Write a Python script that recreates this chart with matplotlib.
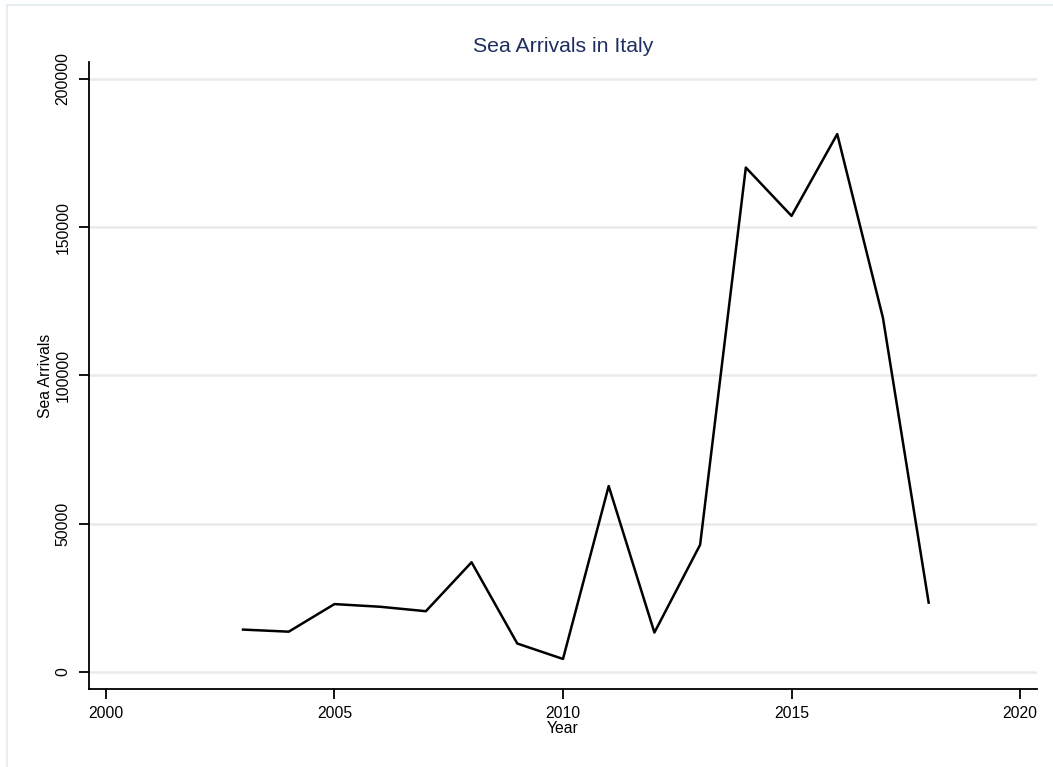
import matplotlib.pyplot as plt
from matplotlib.patches import Rectangle

# Llegadas por mar a Italia, por año
anios = [2003, 2004, 2005, 2006, 2007, 2008, 2009, 2010,
         2011, 2012, 2013, 2014, 2015, 2016, 2017, 2018]
llegadas = [14300, 13600, 22900, 22000, 20500, 37000, 9600, 4400,
            62700, 13300, 42900, 170100, 153800, 181400, 119400, 23400]

plt.rcParams['font.family'] = ['Liberation Sans', 'DejaVu Sans']

fig = plt.figure(figsize=(10.53, 7.67), dpi=100)
ax = fig.add_axes([0.0845, 0.1017, 0.9003, 0.8175])

# marco exterior estilo Stata (solo se ven los bordes izquierdo y superior)
fig.patches.append(Rectangle((0.0066, -0.1), 1.2, 1.0935, transform=fig.transFigure,
                             fill=False, edgecolor='#e6edf3', linewidth=1.5))

ax.plot(anios, llegadas, color='black', linewidth=1.8)

ax.set_xlim(1999.63, 2020.37)
ax.set_ylim(-5730, 205700)
ax.set_xticks([2000, 2005, 2010, 2015, 2020])
ax.set_yticks([0, 50000, 100000, 150000, 200000])
ax.set_yticklabels(['0', '50000', '100000', '150000', '200000'], rotation=90, va='center')
ax.yaxis.grid(True, color='#eaeaea', linewidth=1.8)
ax.set_axisbelow(True)

for s in ['top', 'right']:
    ax.spines[s].set_visible(False)
for s in ['left', 'bottom']:
    ax.spines[s].set_linewidth(1.3)
ax.tick_params(direction='out', length=7.2, width=1.3, labelsize=11.3)
ax.tick_params(axis='x', pad=5)
ax.tick_params(axis='y', pad=6)

ax.set_title('Sea Arrivals in Italy', color='#1f3060', fontsize=15.3, pad=7)
ax.set_xlabel('Year', fontsize=11.3, labelpad=0)
ax.set_ylabel('Sea Arrivals', fontsize=11.3, labelpad=2)

plt.savefig('out.png', dpi=100)
